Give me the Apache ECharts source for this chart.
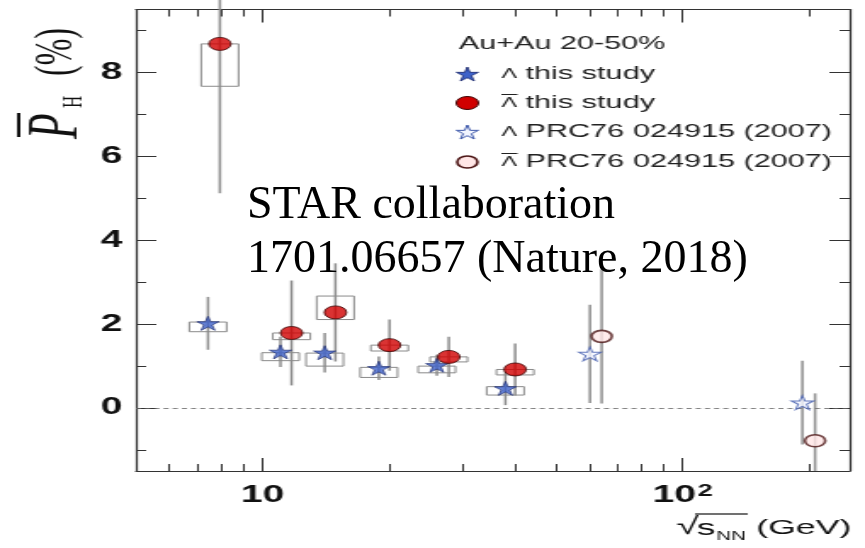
<!DOCTYPE html>
<html>
<head>
<meta charset="utf-8">
<script src="https://cdn.jsdelivr.net/npm/echarts@6/dist/echarts.min.js"></script>
<style>
html, body { margin: 0; padding: 0; background: #fff; overflow: hidden; }
#frame { position: relative; width: 865px; height: 548px; overflow: hidden; }
/* the figure is drawn on a narrow canvas and widened to the page width */
#plot { position: absolute; left: 0; top: 0; width: 509px; height: 548px; transform: scaleX(1.6994); transform-origin: 0 0; }
#note { position: absolute; left: 0; top: 0; width: 865px; height: 548px; pointer-events: none; }
</style>
</head>
<body>
<div id="frame"><div id="plot"></div><div id="note"></div></div>
<script>
// Lambda, this study: plotted energy (GeV), polarization (%), stat. error, sys. box edges
const lambdaEnergy = [7.42, 11.04, 14.07, 18.93, 26.01, 37.88];
const lambdaPolarization = [2.02, 1.34, 1.32, 0.95, 1.02, 0.47];
const lambdaStatError = [0.63, 0.36, 0.47, 0.28, 0.25, 0.40];
const lambdaSysLow = [1.82, 1.13, 1.00, 0.73, 0.84, 0.31];
const lambdaSysHigh = [2.05, 1.32, 1.31, 0.97, 1.00, 0.51];

// Anti-lambda, this study
const antiLambdaEnergy = [7.92, 11.73, 14.92, 20.07, 27.77, 39.95];
const antiLambdaPolarization = [8.68, 1.79, 2.28, 1.50, 1.22, 0.92];
const antiLambdaStatError = [3.56, 1.25, 1.17, 0.61, 0.48, 0.62];
const antiLambdaSysLow = [7.67, 1.63, 2.11, 1.36, 1.10, 0.79];
const antiLambdaSysHigh = [8.68, 1.79, 2.67, 1.50, 1.22, 0.92];

// Earlier measurement, PRC76 024915 (2007)
const prcLambdaEnergy = [60.2, 192.9];
const prcLambdaPolarization = [1.29, 0.13];
const prcLambdaStatError = [1.17, 1.00];
const prcAntiLambdaEnergy = [64.2, 206.8];
const prcAntiLambdaPolarization = [1.71, -0.78];
const prcAntiLambdaStatError = [1.60, 1.13];

// Axis ticks
const xMajorTicks = [10, 100];
const xMinorTicks = [6, 7, 8, 9, 20, 30, 40, 50, 60, 70, 80, 90, 200];
const yMajorTicks = [0, 2, 4, 6, 8];
const yMinorTicks = [-1, 1, 3, 5, 7, 9];

// Texts
const seriesNames = ['\u039B this study', '\u039B\u0304 this study', '\u039B PRC76 024915 (2007)', '\u039B\u0304 PRC76 024915 (2007)'];
const legendTitle = 'Au+Au 20-50%';
const legendLabels = ['this study', 'this study', 'PRC76 024915 (2007)', 'PRC76 024915 (2007)'];
const noteLines = ['STAR collaboration', '1701.06657 (Nature, 2018)'];

const X_MIN = 5, X_MAX = 250, Y_MIN = -1.5, Y_MAX = 9.5;
const SANS = 'Liberation Sans';
const SERIF = 'Liberation Serif';
const AXIS_COLOR = '#333';
const LABEL_COLOR = '#111';
const STAR = 'path://M0,-1L0.2245,-0.309L0.9511,-0.309L0.3633,0.118L0.5878,0.809L0,0.382L-0.5878,0.809L-0.3633,0.118L-0.9511,-0.309L-0.2245,-0.309Z';

const STYLE_LAMBDA = { color: '#3e62c9', borderColor: '#17256b', borderWidth: 0.8 };
const STYLE_ANTI = { color: '#d10000', borderColor: '#3b0000', borderWidth: 1 };
const STYLE_PRC_LAMBDA = { color: '#f2f5ff', borderColor: '#3d58ab', borderWidth: 1 };
const STYLE_PRC_ANTI = { color: '#ffe6e6', borderColor: '#4b1414', borderWidth: 1.6 };

function zip(...cols) { return cols[0].map((_, i) => cols.map(c => c[i])); }

function xAxisDef(position, ticks, len, withLine, withLabels) {
  return {
    type: 'log', logBase: 10, min: X_MIN, max: X_MAX, position: position,
    axisLine: { show: withLine, onZero: false, lineStyle: { color: AXIS_COLOR, width: 1.2 } },
    axisTick: { show: true, inside: true, length: len, customValues: ticks, lineStyle: { color: AXIS_COLOR, width: 1 } },
    axisLabel: withLabels ? {
      show: true, customValues: ticks, margin: 13, color: LABEL_COLOR, fontFamily: SANS, fontSize: 23, fontWeight: 'bold',
      formatter: v => {
        const p = Math.round(Math.log10(v));
        return p === 1 ? '{b|10}' : '{b|10}{e|' + p + '}';
      },
      rich: {
        b: { fontFamily: SANS, fontSize: 23, fontWeight: 'bold', color: LABEL_COLOR },
        e: { fontFamily: SANS, fontSize: 16, fontWeight: 'bold', color: LABEL_COLOR, verticalAlign: 'top', padding: [0, 0, 0, 1] }
      }
    } : { show: false },
    splitLine: { show: false }
  };
}

function yAxisDef(position, ticks, len, withLine, withLabels) {
  return {
    type: 'value', min: Y_MIN, max: Y_MAX, position: position,
    axisLine: { show: withLine, onZero: false, lineStyle: { color: AXIS_COLOR, width: 1.2 } },
    axisTick: { show: true, inside: true, length: len, customValues: ticks, lineStyle: { color: AXIS_COLOR, width: 1 } },
    axisLabel: withLabels ? { show: true, customValues: ticks, margin: 8, color: LABEL_COLOR, fontFamily: SANS, fontSize: 23, fontWeight: 'bold' } : { show: false },
    splitLine: { show: false }
  };
}

function errorSeries(xs, ys, es) {
  return {
    type: 'custom', xAxisIndex: 0, yAxisIndex: 0, z: 2, silent: true,
    data: zip(xs, ys, es),
    encode: { x: 0, y: 1 },
    renderItem: (params, api) => {
      const x = api.value(0), y = api.value(1), e = api.value(2);
      const top = api.coord([x, y + e]);
      const bottom = api.coord([x, Math.max(y - e, Y_MIN)]);
      return {
        type: 'line',
        shape: { x1: top[0], y1: top[1], x2: bottom[0], y2: bottom[1] },
        style: { stroke: '#8e8e8e', lineWidth: 1.5 }
      };
    }
  };
}

function boxSeries(xs, lows, highs) {
  return {
    type: 'custom', xAxisIndex: 0, yAxisIndex: 0, z: 3, silent: true,
    data: zip(xs, lows, highs),
    encode: { x: 0, y: [1, 2] },
    renderItem: (params, api) => {
      const x = api.value(0);
      const hi = api.coord([x, api.value(2)]);
      const lo = api.coord([x, api.value(1)]);
      const hw = 11;
      return {
        type: 'rect',
        shape: { x: hi[0] - hw, y: hi[1], width: 2 * hw, height: lo[1] - hi[1] },
        style: { fill: 'none', stroke: '#8a8a8a', lineWidth: 1 }
      };
    }
  };
}

function markerSeries(name, xs, ys, symbol, size, style) {
  return {
    type: 'scatter', name: name, xAxisIndex: 0, yAxisIndex: 0, z: 5,
    data: zip(xs, ys), symbol: symbol, symbolSize: size, itemStyle: style
  };
}

function starPoints(cx, cy, w, h) {
  const pts = [];
  for (let k = 0; k < 10; k++) {
    const a = (-90 + 36 * k) * Math.PI / 180, r = k % 2 ? 0.382 : 1;
    pts.push([cx + r * Math.cos(a) * w / 1.902, cy + (r * Math.sin(a) + 0.0955) * h / 1.809]);
  }
  return pts;
}

// Legend block drawn as graphics
const LEG_ICON_X = 275, LEG_TEXT_X = 295, LEG_ROWS = [74, 103, 132, 162];
const legendIcon = [
  y => ({ type: 'polygon', shape: { points: starPoints(LEG_ICON_X, y, 13, 14) }, style: { fill: STYLE_LAMBDA.color, stroke: STYLE_LAMBDA.borderColor, lineWidth: 0.8 } }),
  y => ({ type: 'circle', shape: { cx: LEG_ICON_X, cy: y, r: 6.5 }, style: { fill: STYLE_ANTI.color, stroke: STYLE_ANTI.borderColor, lineWidth: 1 } }),
  y => ({ type: 'polygon', shape: { points: starPoints(LEG_ICON_X, y, 13, 14) }, style: { fill: STYLE_PRC_LAMBDA.color, stroke: STYLE_PRC_LAMBDA.borderColor, lineWidth: 1 } }),
  y => ({ type: 'circle', shape: { cx: LEG_ICON_X, cy: y, r: 6 }, style: { fill: STYLE_PRC_ANTI.color, stroke: STYLE_PRC_ANTI.borderColor, lineWidth: 1.6 } })
];
const legendBar = [false, true, false, true];

const graphics = [
  { type: 'text', x: 270, y: 44, style: { text: legendTitle, font: '18px "' + SANS + '"', fill: '#222', align: 'left', verticalAlign: 'middle', textAlign: 'left', textVerticalAlign: 'middle' } }
];
LEG_ROWS.forEach((y, i) => {
  graphics.push(legendIcon[i](y));
  graphics.push({
    type: 'text', x: LEG_TEXT_X, y: y,
    style: {
      text: '{l|\u039B}{t| ' + legendLabels[i] + '}', align: 'left', verticalAlign: 'middle', textAlign: 'left', textVerticalAlign: 'middle',
      rich: {
        l: { fontFamily: SANS, fontSize: 14, fill: '#222', color: '#222' },
        t: { fontFamily: SANS, fontSize: 18, fill: '#222', color: '#222' }
      }
    }
  });
  if (legendBar[i]) {
    graphics.push({ type: 'line', shape: { x1: LEG_TEXT_X, y1: y - 8.5, x2: LEG_TEXT_X + 9.5, y2: y - 8.5 }, style: { stroke: '#222', lineWidth: 1 } });
  }
});

// Vertical axis title, reading bottom to top
graphics.push({
  type: 'group', x: 47, y: 140, rotation: Math.PI / 2,
  children: [
    { type: 'line', shape: { x1: 3, y1: -36, x2: 27, y2: -36 }, style: { stroke: '#111', lineWidth: 2 } },
    { type: 'text', x: 1, y: -13, style: { text: 'P', font: 'italic 42px "' + SERIF + '"', fill: '#111', align: 'left', verticalAlign: 'middle', textAlign: 'left', textVerticalAlign: 'middle' } },
    { type: 'text', x: 32, y: -3, style: { text: 'H', font: '17px "' + SERIF + '"', fill: '#111', align: 'left', verticalAlign: 'middle', textAlign: 'left', textVerticalAlign: 'middle' } },
    { type: 'text', x: 64, y: -13, style: { text: '(%)', font: '32px "' + SERIF + '"', fill: '#111', align: 'left', verticalAlign: 'middle', textAlign: 'left', textVerticalAlign: 'middle' } }
  ]
});

// Horizontal axis title: sqrt(s_NN) (GeV)
graphics.push(
  { type: 'text', x: 398, y: 527, style: { text: '\u221A', font: '24px "' + SANS + '"', fill: '#111', align: 'left', verticalAlign: 'middle', textAlign: 'left', textVerticalAlign: 'middle' } },
  { type: 'line', shape: { x1: 409, y1: 514, x2: 440, y2: 514 }, style: { stroke: '#111', lineWidth: 1.2 } },
  { type: 'text', x: 410, y: 529, style: { text: 's', font: '22px "' + SANS + '"', fill: '#111', align: 'left', verticalAlign: 'middle', textAlign: 'left', textVerticalAlign: 'middle' } },
  { type: 'text', x: 421.5, y: 537, style: { text: 'NN', font: '12px "' + SANS + '"', fill: '#111', align: 'left', verticalAlign: 'middle', textAlign: 'left', textVerticalAlign: 'middle' } },
  { type: 'text', x: 501, y: 528, style: { text: '(GeV)', font: '21px "' + SANS + '"', fill: '#111', align: 'right', verticalAlign: 'middle', textAlign: 'right', textVerticalAlign: 'middle' } }
);

const zeroLine = {
  silent: true, symbol: ['none', 'none'], animation: false,
  label: { show: false },
  lineStyle: { color: '#666', width: 0.8, type: [3, 2.4] },
  data: [{ yAxis: 0 }]
};

const lambdaMarkers = markerSeries(seriesNames[0], lambdaEnergy, lambdaPolarization, STAR, [13, 14], STYLE_LAMBDA);
lambdaMarkers.markLine = zeroLine;

const plot = echarts.init(document.getElementById('plot'), null, { renderer: 'canvas' });
plot.setOption({
  animation: false,
  backgroundColor: '#fff',
  grid: { left: 80, right: 9, top: 9.5, bottom: 77, containLabel: false },
  xAxis: [
    xAxisDef('bottom', xMajorTicks, 13, true, true),
    xAxisDef('bottom', xMinorTicks, 7, false, false),
    xAxisDef('top', xMajorTicks, 13, true, false),
    xAxisDef('top', xMinorTicks, 7, false, false)
  ],
  yAxis: [
    yAxisDef('left', yMajorTicks, 12, true, true),
    yAxisDef('left', yMinorTicks, 6, false, false),
    yAxisDef('right', yMajorTicks, 12, true, false),
    yAxisDef('right', yMinorTicks, 6, false, false)
  ],
  series: [
    errorSeries(lambdaEnergy, lambdaPolarization, lambdaStatError),
    errorSeries(antiLambdaEnergy, antiLambdaPolarization, antiLambdaStatError),
    errorSeries(prcLambdaEnergy, prcLambdaPolarization, prcLambdaStatError),
    errorSeries(prcAntiLambdaEnergy, prcAntiLambdaPolarization, prcAntiLambdaStatError),
    boxSeries(lambdaEnergy, lambdaSysLow, lambdaSysHigh),
    boxSeries(antiLambdaEnergy, antiLambdaSysLow, antiLambdaSysHigh),
    lambdaMarkers,
    markerSeries(seriesNames[1], antiLambdaEnergy, antiLambdaPolarization, 'circle', [13, 13], STYLE_ANTI),
    markerSeries(seriesNames[2], prcLambdaEnergy, prcLambdaPolarization, STAR, [13, 14], STYLE_PRC_LAMBDA),
    markerSeries(seriesNames[3], prcAntiLambdaEnergy, prcAntiLambdaPolarization, 'circle', [12, 12], STYLE_PRC_ANTI)
  ],
  graphic: graphics
});

// Citation note, set in a serif face on top of the figure
const note = echarts.init(document.getElementById('note'), null, { renderer: 'canvas' });
note.setOption({
  animation: false,
  graphic: noteLines.map((t, i) => ({
    type: 'text', x: 247, y: 206 + i * 54,
    style: { text: t, font: '46px "' + SERIF + '"', fill: '#000', align: 'left', verticalAlign: 'middle', textAlign: 'left', textVerticalAlign: 'middle' }
  }))
});
</script>
</body>
</html>
